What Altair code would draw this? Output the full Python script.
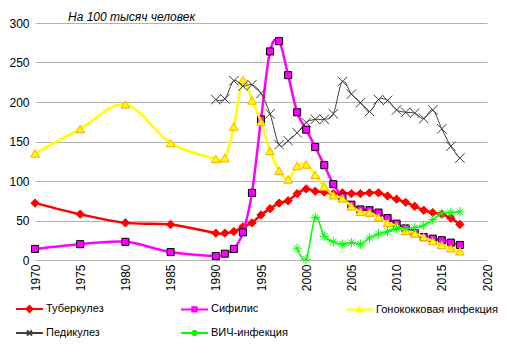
import altair as alt
import pandas as pd

# ---------------- data ----------------
years_main = [1970, 1975, 1980, 1985] + list(range(1990, 2018))
years_ped = list(range(1990, 2018))
years_hiv = list(range(1999, 2018))

tuberculosis = [72, 58, 47, 45,
                34, 34, 36, 42, 47, 57, 65, 72, 75, 84,
                90, 87, 86, 84, 85, 84, 84, 85, 85, 81,
                77, 73, 68, 63, 60, 58, 53, 45]
syphilis = [14, 20, 23, 10,
            5, 8, 14, 35, 85, 178, 264, 277, 234, 187,
            165, 143, 120, 96, 80, 70, 64, 63, 60, 53,
            46, 40, 34, 29, 27, 25, 22, 19]
gonorrhea = [135, 166, 197, 148,
             128, 129, 169, 228, 202, 175, 138, 113, 102, 119,
             121, 108, 93, 82, 78, 68, 61, 60, 54, 47,
             43, 37, 34, 29, 24, 19, 15, 11]
pediculosis = [203, 204, 227, 220, 222, 211, 185, 146, 151, 161,
               174, 178, 178, 185, 226, 210, 199, 188, 203, 202,
               190, 187, 186, 179, 190, 166, 144, 129]
hiv = [15, 1, 54, 30, 23, 20, 22, 20, 28, 33, 36,
       40, 40, 41, 44, 51, 59, 60, 61]

names = ["Туберкулез", "Сифилис", "Гонококковая инфекция", "Педикулез", "ВИЧ-инфекция"]
colors = ["#FF0000", "#FF00FF", "#FFFF00", "#3f3f35", "#00FF00"]
x_ticks = list(range(1970, 2021, 5))
y_ticks = [0, 50, 100, 150, 200, 250, 300]

series_data = [
    (names[0], years_main, tuberculosis),
    (names[1], years_main, syphilis),
    (names[2], years_main, gonorrhea),
    (names[3], years_ped, pediculosis),
    (names[4], years_hiv, hiv),
]
df = pd.concat(
    [pd.DataFrame({"year": yrs, "value": vals, "series": nm}) for nm, yrs, vals in series_data],
    ignore_index=True,
)

FONT = "Liberation Sans"

X = alt.X("year:Q",
          scale=alt.Scale(domain=[1970, 2020], nice=False, zero=False),
          axis=alt.Axis(values=x_ticks, format="d", labelAngle=-90, grid=False,
                        domain=False, ticks=False, labelPadding=4, title=None,
                        labelFont=FONT, labelFontSize=12, labelColor="#000000"))
Y = alt.Y("value:Q",
          scale=alt.Scale(domain=[0, 300], nice=False, zero=True),
          axis=alt.Axis(values=y_ticks, grid=True, gridColor="#b3b3b3", gridWidth=1,
                        domain=False, ticks=False, labelPadding=6, title=None,
                        labelFont=FONT, labelFontSize=12, labelColor="#000000"))

base = alt.Chart(df)

line_styles = {
    names[0]: dict(color=colors[0], strokeWidth=2.5),
    names[1]: dict(color=colors[1], strokeWidth=2.5),
    names[2]: dict(color=colors[2], strokeWidth=2.5),
    names[3]: dict(color=colors[3], strokeWidth=1),
    names[4]: dict(color=colors[4], strokeWidth=1.5),
}
X_PATH = "M-1,-1L1,1M-1,1L1,-1"
AST_PATH = "M-1,0L1,0M0,-1L0,1M-0.7,-0.7L0.7,0.7M-0.7,0.7L0.7,-0.7"
point_styles = {
    names[0]: dict(shape="diamond", filled=True, fill=colors[0], stroke=colors[0], strokeWidth=1, size=70),
    names[1]: dict(shape="square", filled=True, fill=colors[1], stroke="#000000", strokeWidth=1, size=50),
    names[2]: dict(shape="triangle-up", filled=True, fill=colors[2], stroke="#FFA500", strokeWidth=1, size=75),
    names[3]: dict(shape=X_PATH, filled=False, stroke=colors[3], strokeWidth=1, size=90),
    names[4]: dict(shape=AST_PATH, filled=False, stroke=colors[4], strokeWidth=1, size=90),
}

layers = []
for nm in names:
    sub = base.transform_filter(alt.datum.series == nm)
    layers.append(sub.mark_line(interpolate="cardinal", **line_styles[nm]).encode(x=X, y=Y))
    layers.append(sub.mark_point(opacity=1, **point_styles[nm]).encode(x=X, y=Y))

# legend-only layer (no rows drawn)
legend_paths = [
    "M-1.35,0L1.35,0M0,-0.3L0.3,0L0,0.3L-0.3,0Z",
    "M-1.35,0L1.35,0M-0.22,-0.22L0.22,-0.22L0.22,0.22L-0.22,0.22Z",
    "M-1.35,0L1.35,0M0,-0.25L0.25,0.2L-0.25,0.2Z",
    "M-1.35,0L1.35,0M-0.25,-0.25L0.25,0.25M-0.25,0.25L0.25,-0.25",
    "M-1.35,0L1.35,0M-0.3,0L0.3,0M0,-0.3L0,0.3M-0.22,-0.22L0.22,0.22M-0.22,0.22L0.22,-0.22",
]
leg = dict(orient="none", legendX=-16.5, legendY=275, columns=3, direction="horizontal",
           gridAlign="all", columnPadding=8, rowPadding=6, padding=0, title=None,
           symbolSize=400, symbolStrokeWidth=2, labelOffset=5.5, labelLimit=300,
           labelFont=FONT, labelFontSize=11, labelColor="#000000")
legend_layer = base.transform_filter("false").mark_point(filled=False, opacity=1).encode(
    x=X, y=Y,
    stroke=alt.Stroke("series:N", scale=alt.Scale(domain=names, range=colors), legend=alt.Legend(**leg)),
    shape=alt.Shape("series:N", scale=alt.Scale(domain=names, range=legend_paths), legend=alt.Legend(**leg)),
)
layers.append(legend_layer)

chart = alt.layer(*layers).properties(
    width=452, height=237,
    padding={"left": 27, "top": 15, "right": 15, "bottom": 90},
    autosize=alt.AutoSizeParams(type="none"),
    title=alt.TitleParams("На 100 тысяч человек", anchor="start", frame="group", dx=33, dy=19,
                          offset=3, font=FONT, fontSize=12, fontStyle="italic",
                          fontWeight="normal", color="#000000", baseline="alphabetic"),
).configure_view(stroke=None).properties(background="white")

chart.save("out.html", embed_options={"renderer": "svg", "actions": False})
